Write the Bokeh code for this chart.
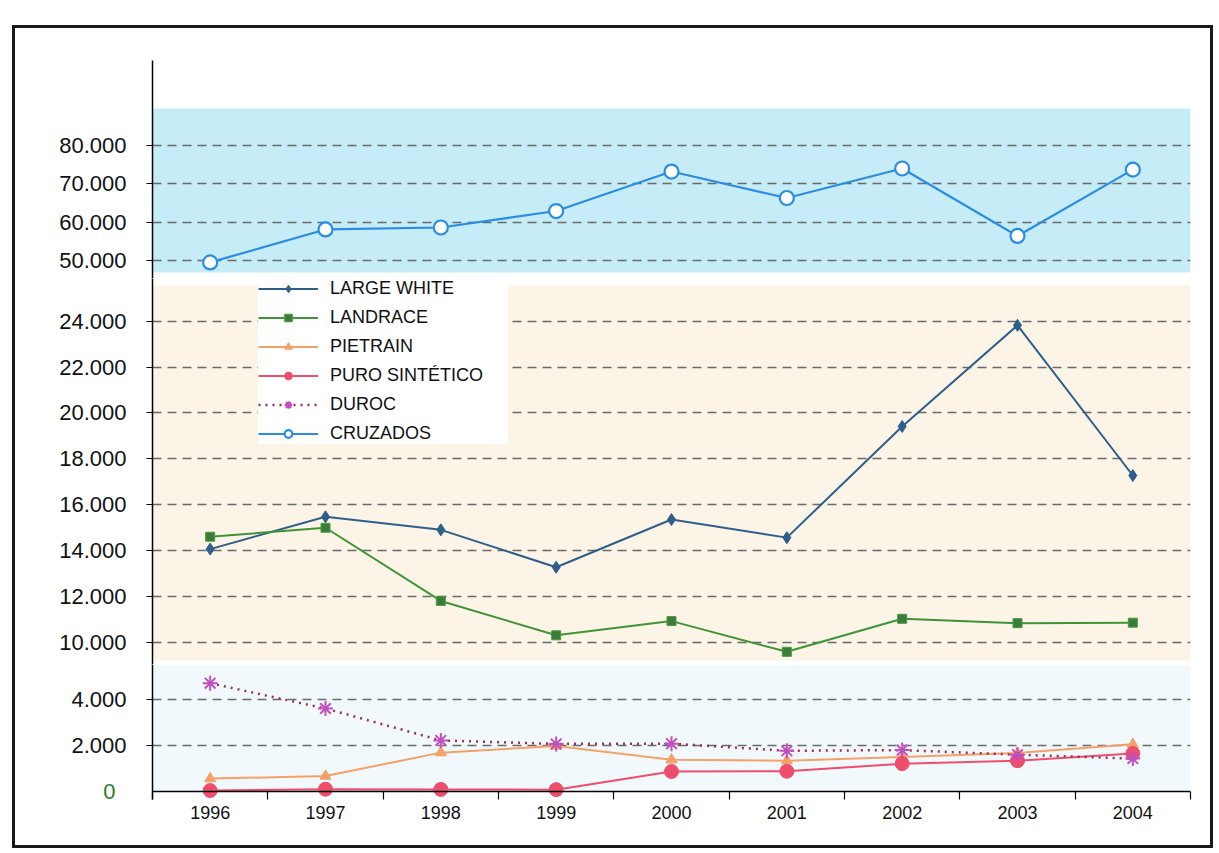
from bokeh.plotting import figure
from bokeh.models import (Range1d, FixedTicker, CustomJSTickFormatter, BoxAnnotation,
                          Legend, LegendItem, BasicTickFormatter, Span, LinearAxis)
from bokeh.layouts import column
from bokeh.embed import file_html
from bokeh.resources import INLINE

# ---------------- data ----------------
years = [1996, 1997, 1998, 1999, 2000, 2001, 2002, 2003, 2004]
large_white = [14060, 15470, 14900, 13270, 15350, 14560, 19410, 23820, 17270]
landrace = [14600, 14990, 11800, 10300, 10920, 9580, 11020, 10830, 10850]
pietrain = [560, 670, 1690, 1980, 1380, 1340, 1500, 1670, 2050]
puro_sintetico = [40, 100, 90, 80, 870, 880, 1210, 1340, 1650]
duroc = [4710, 3610, 2220, 2070, 2080, 1770, 1800, 1600, 1430]
cruzados = [49500, 58100, 58600, 62900, 73200, 66300, 74000, 56400, 73700]

top_ticks = [50000, 60000, 70000, 80000]
mid_ticks = [10000, 12000, 14000, 16000, 18000, 20000, 22000, 24000]
bot_ticks = [2000, 4000]
zero_tick = [0]

FONT = "Liberation Sans"
C_LW = "#2e5f8a"
C_LR = "#3f9438"
C_PI = "#f5a066"
C_PS = "#ef4d6c"
C_DU_LINE = "#9c2f4f"
C_DU_MK = "#c050c0"
C_CR = "#2a8de4"

x_range = Range1d(1995.5, 2004.5)
W = 1195
ML, MR = 137, 20

fmt_code = r"""
return Math.round(tick).toString().replace(/\B(?=(\d{3})+(?!\d))/g, ".");
"""


def base_fig(height, yr, top=0, bottom=0, with_x=False):
    p = figure(width=W, height=height, x_range=x_range, y_range=yr,
               output_backend="svg", toolbar_location=None,
               x_axis_location="below" if with_x else None,
               min_border_left=ML, min_border_right=MR,
               min_border_top=top, min_border_bottom=bottom)
    p.outline_line_color = None
    p.background_fill_color = "white"
    p.border_fill_color = "white"
    p.xgrid.visible = False
    return p


def style_y(p, ticks, grid_ticks):
    t = FixedTicker(ticks=ticks, minor_ticks=[])
    p.yaxis.ticker = t
    p.ygrid.ticker = FixedTicker(ticks=grid_ticks, minor_ticks=[])
    p.yaxis.formatter = CustomJSTickFormatter(code=fmt_code)
    p.yaxis.axis_line_color = "black"
    p.yaxis.axis_line_width = 1.5
    p.yaxis.major_tick_out = 6
    p.yaxis.major_tick_in = 0
    p.yaxis.major_tick_line_color = "black"
    p.yaxis.minor_tick_line_color = None
    p.yaxis.major_label_standoff = 20
    p.yaxis.major_label_text_font = FONT
    p.yaxis.major_label_text_font_size = "22px"
    p.yaxis.major_label_text_color = "#111111"
    p.ygrid.grid_line_color = "#6a6a6a"
    p.ygrid.grid_line_dash = "9 6"
    p.ygrid.grid_line_width = 1.3


# ---------------- top band: CRUZADOS ----------------
p1 = base_fig(250, Range1d(45300, 102170), top=32)
style_y(p1, top_ticks, top_ticks)
p1.add_layout(BoxAnnotation(bottom=46870, top=89650, fill_color="#c6ecf8", fill_alpha=1,
                            line_color=None, level="image"))
p1.line(years, cruzados, line_color=C_CR, line_width=2.2)
p1.scatter(years, cruzados, marker="circle", size=14, fill_color="white",
           line_color=C_CR, line_width=2.2)

# ---------------- middle band ----------------
p2 = base_fig(386, Range1d(9027, 25862))
style_y(p2, mid_ticks, mid_ticks)
p2.add_layout(BoxAnnotation(bottom=9200, top=25557, fill_color="#fbf4e7", fill_alpha=1,
                            line_color=None, level="image"))

lw_l = p2.line(years, large_white, line_color=C_LW, line_width=2)
lw_m = p2.scatter(years, large_white, marker="diamond", size=12, fill_color=C_LW, line_color=C_LW)
lr_l = p2.line(years, landrace, line_color=C_LR, line_width=2)
lr_m = p2.scatter(years, landrace, marker="square", size=9, fill_color="#3a7d3a", line_color="#4f9a3f")
# series of the other bands (outside this band's range) - used for the legend
pi_l = p2.line(years, pietrain, line_color=C_PI, line_width=2)
pi_m = p2.scatter(years, pietrain, marker="triangle", size=11, fill_color=C_PI, line_color=C_PI)
ps_l = p2.line(years, puro_sintetico, line_color=C_PS, line_width=2)
ps_m = p2.scatter(years, puro_sintetico, marker="circle", size=14, fill_color=C_PS, line_color=C_PS)
du_l = p2.line(years, duroc, line_color=C_DU_LINE, line_width=2.5, line_dash="2 5")
du_m = p2.scatter(years, duroc, marker="asterisk", size=15, line_color=C_DU_MK, line_width=2)
cr_l = p2.line(years, cruzados, line_color=C_CR, line_width=2.2)
cr_m = p2.scatter(years, cruzados, marker="circle", size=14, fill_color="white",
                  line_color=C_CR, line_width=2.2)

legend = Legend(items=[
    LegendItem(label="LARGE WHITE", renderers=[lw_l, lw_m]),
    LegendItem(label="LANDRACE", renderers=[lr_l, lr_m]),
    LegendItem(label="PIETRAIN", renderers=[pi_l, pi_m]),
    LegendItem(label="PURO SINTÉTICO", renderers=[ps_l, ps_m]),
    LegendItem(label="DUROC", renderers=[du_l, du_m]),
    LegendItem(label="CRUZADOS", renderers=[cr_l, cr_m]),
], location=(106, 220))
legend.label_text_font = FONT
legend.label_text_font_size = "18px"
legend.label_text_color = "#111111"
legend.glyph_width = 60
legend.glyph_height = 19
legend.label_height = 19
legend.label_width = 178
legend.spacing = 8
legend.padding = 0
legend.margin = 0
legend.label_standoff = 12
legend.border_line_color = None
legend.background_fill_color = "white"
legend.background_fill_alpha = 1
p2.add_layout(legend)

# ---------------- bottom band ----------------
p3 = base_fig(181, Range1d(-348, 5522), bottom=46, with_x=True)
style_y(p3, bot_ticks, bot_ticks)
p3.add_layout(BoxAnnotation(bottom=0, fill_color="#f2f9fd", fill_alpha=1,
                            line_color=None, level="image"))
p3.add_layout(Span(location=0, dimension="width", line_color="black", line_width=1.5))
p3.line(years, pietrain, line_color=C_PI, line_width=2)
p3.scatter(years, pietrain, marker="triangle", size=11, fill_color=C_PI, line_color=C_PI)
p3.line(years, puro_sintetico, line_color=C_PS, line_width=2)
p3.scatter(years, puro_sintetico, marker="circle", size=14, fill_color=C_PS, line_color=C_PS)
p3.line(years, duroc, line_color=C_DU_LINE, line_width=2.5, line_dash="2 5")
p3.scatter(years, duroc, marker="asterisk", size=15, line_color=C_DU_MK, line_width=2)

# green "0" of the y axis (second, label-only axis)
zero_axis = LinearAxis(ticker=FixedTicker(ticks=zero_tick, minor_ticks=[]),
                       axis_line_color=None, major_tick_line_color=None,
                       minor_tick_line_color=None, major_tick_out=0, major_tick_in=0,
                       major_label_standoff=-47, major_label_text_font=FONT,
                       major_label_text_font_size="22px", major_label_text_color="#2e7d32")
p3.add_layout(zero_axis, "left")

xa = p3.xaxis[0]
xa.ticker = FixedTicker(ticks=years, minor_ticks=[y - 0.5 for y in years] + [years[-1] + 0.5])
xa.formatter = BasicTickFormatter(use_scientific=False)
xa.axis_line_color = None
xa.major_tick_line_color = None
xa.major_tick_out = 0
xa.major_tick_in = 0
xa.minor_tick_out = 0
xa.minor_tick_in = 8
xa.minor_tick_line_color = "black"
xa.minor_tick_line_width = 1.2
xa.major_label_standoff = 6
xa.major_label_text_font = FONT
xa.major_label_text_font_size = "18px"
xa.major_label_text_color = "#111111"

layout = column(p1, p2, p3, spacing=0,
                styles={"border": "3px solid #1a1a1a"}, margin=(25, 0, 0, 12))

open("out.html", "w").write(file_html(layout, INLINE))
